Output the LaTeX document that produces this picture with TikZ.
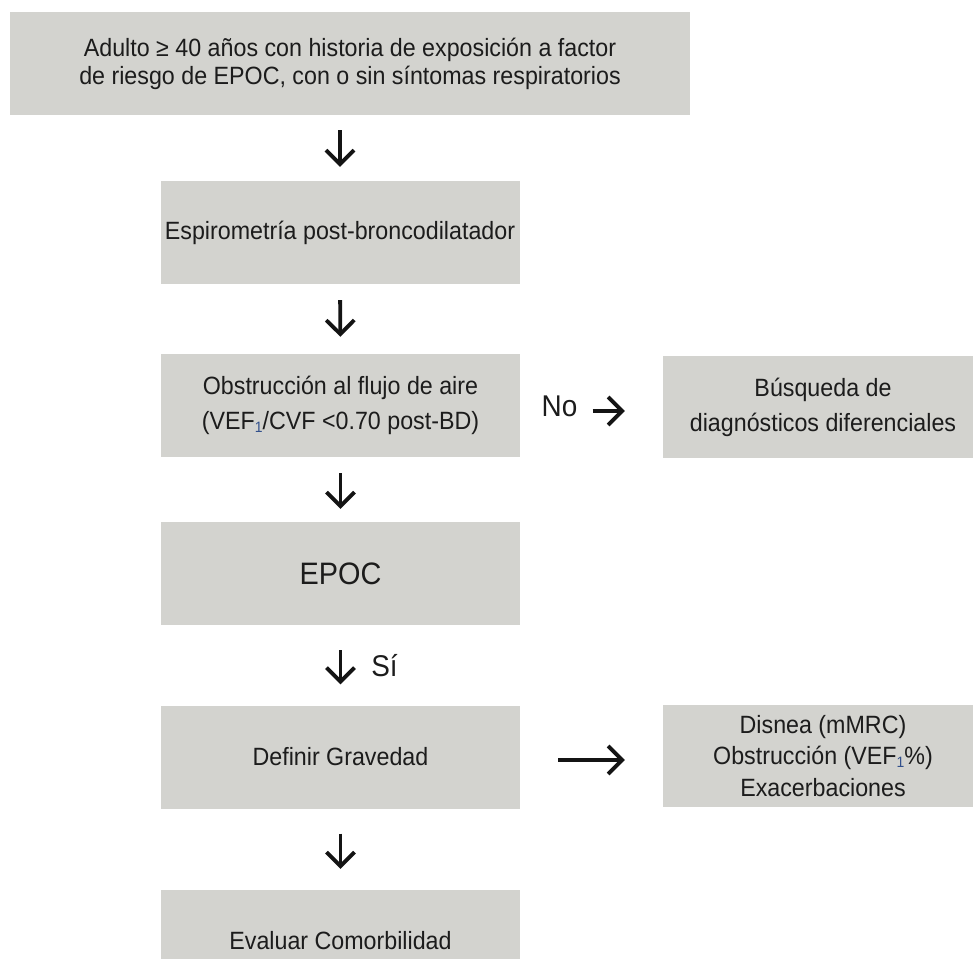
\documentclass[tikz,border=0pt]{standalone}
\usepackage{fontspec}
\setmainfont[FakeStretch=0.93]{Liberation Sans}
\usetikzlibrary{arrows.meta}
\definecolor{boxgray}{RGB}{211,211,207}
\definecolor{txt}{RGB}{28,28,28}
\definecolor{subblue}{RGB}{50,80,140}
\begin{document}
\begin{tikzpicture}[x=1pt,y=-1pt,
  box/.style={fill=boxgray, draw=none, inner sep=0pt, align=center, text=txt,
    minimum width=359pt, minimum height=103pt},
  rbox/.style={box, minimum width=320pt, minimum height=102pt},
  f28/.style={font=\fontsize{25}{28}\selectfont},
  f35/.style={font=\fontsize{25}{35}\selectfont},
  f31/.style={font=\fontsize{25}{31.5}\selectfont},
  arr/.style={line width=3.8pt, draw=black!92,
    -{Straight Barb[length=14pt,width=28pt,line width=3.8pt]}},
  lbl/.style={text=txt, font=\fontsize{30}{32}\selectfont, inner sep=0pt}
]
\useasboundingbox (0,0) rectangle (973,958);
\clip (0,0) rectangle (973,958);

\node[box, f28, minimum width=680pt] (top) at (350,63.5)
  {Adulto ≥ 40 años con historia de exposición a factor\\de riesgo de EPOC, con o sin síntomas respiratorios};
\node[box, f28] (esp) at (340,232.5) {\raisebox{4pt}{Espirometría post-broncodilatador}};
\node[box, f35] (obs) at (340.5,405.5)
  {Obstrucción al flujo de aire\\(VEF{\fontsize{15}{15}\selectfont\color{subblue}\raisebox{-3pt}{1}}/CVF <0.70 post-BD)};
\node[box, font=\fontsize{31}{34}\selectfont] (epoc) at (340.5,573.5) {EPOC};
\node[box, f28] (def) at (340.5,757) {Definir Gravedad};
\node[box, f28] (eval) at (340.5,941.5) {\raisebox{3pt}{Evaluar Comorbilidad}};

\node[rbox, f35] (busq) at (823,407)
  {Búsqueda de\\diagnósticos diferenciales};
\node[rbox, f31] (dis) at (823,756)
  {Disnea (mMRC)\\Obstrucción (VEF{\fontsize{15}{15}\selectfont\color{subblue}\raisebox{-3pt}{1}}\%)\\Exacerbaciones};

\draw[arr, shorten <=15pt, shorten >=14pt] (esp.north |- top.south) -- (esp.north);
\draw[arr, shorten <=16pt, shorten >=17pt] (esp.south) -- (obs.north);
\draw[arr, shorten <=16pt, shorten >=13pt] (obs.south) -- (epoc.north);
\draw[arr, shorten <=25pt, shorten >=21pt] (epoc.south) -- (def.north);
\draw[arr, shorten <=25pt, shorten >=21pt] (def.south) -- (eval.north);
\draw[arr, shorten <=72.5pt, shorten >=38pt] ([yshift=-5.5pt]obs.east) -- ([yshift=-5.5pt]obs.east -| busq.west);
\draw[arr, shorten <=38pt, shorten >=38pt] ([yshift=-3pt]def.east) -- ([yshift=-3pt]def.east -| dis.west);

\node[lbl] (no) at (559.5,406.5) {No};
\node[lbl] (si) at (384.5,666) {Sí};
\end{tikzpicture}
\end{document}
